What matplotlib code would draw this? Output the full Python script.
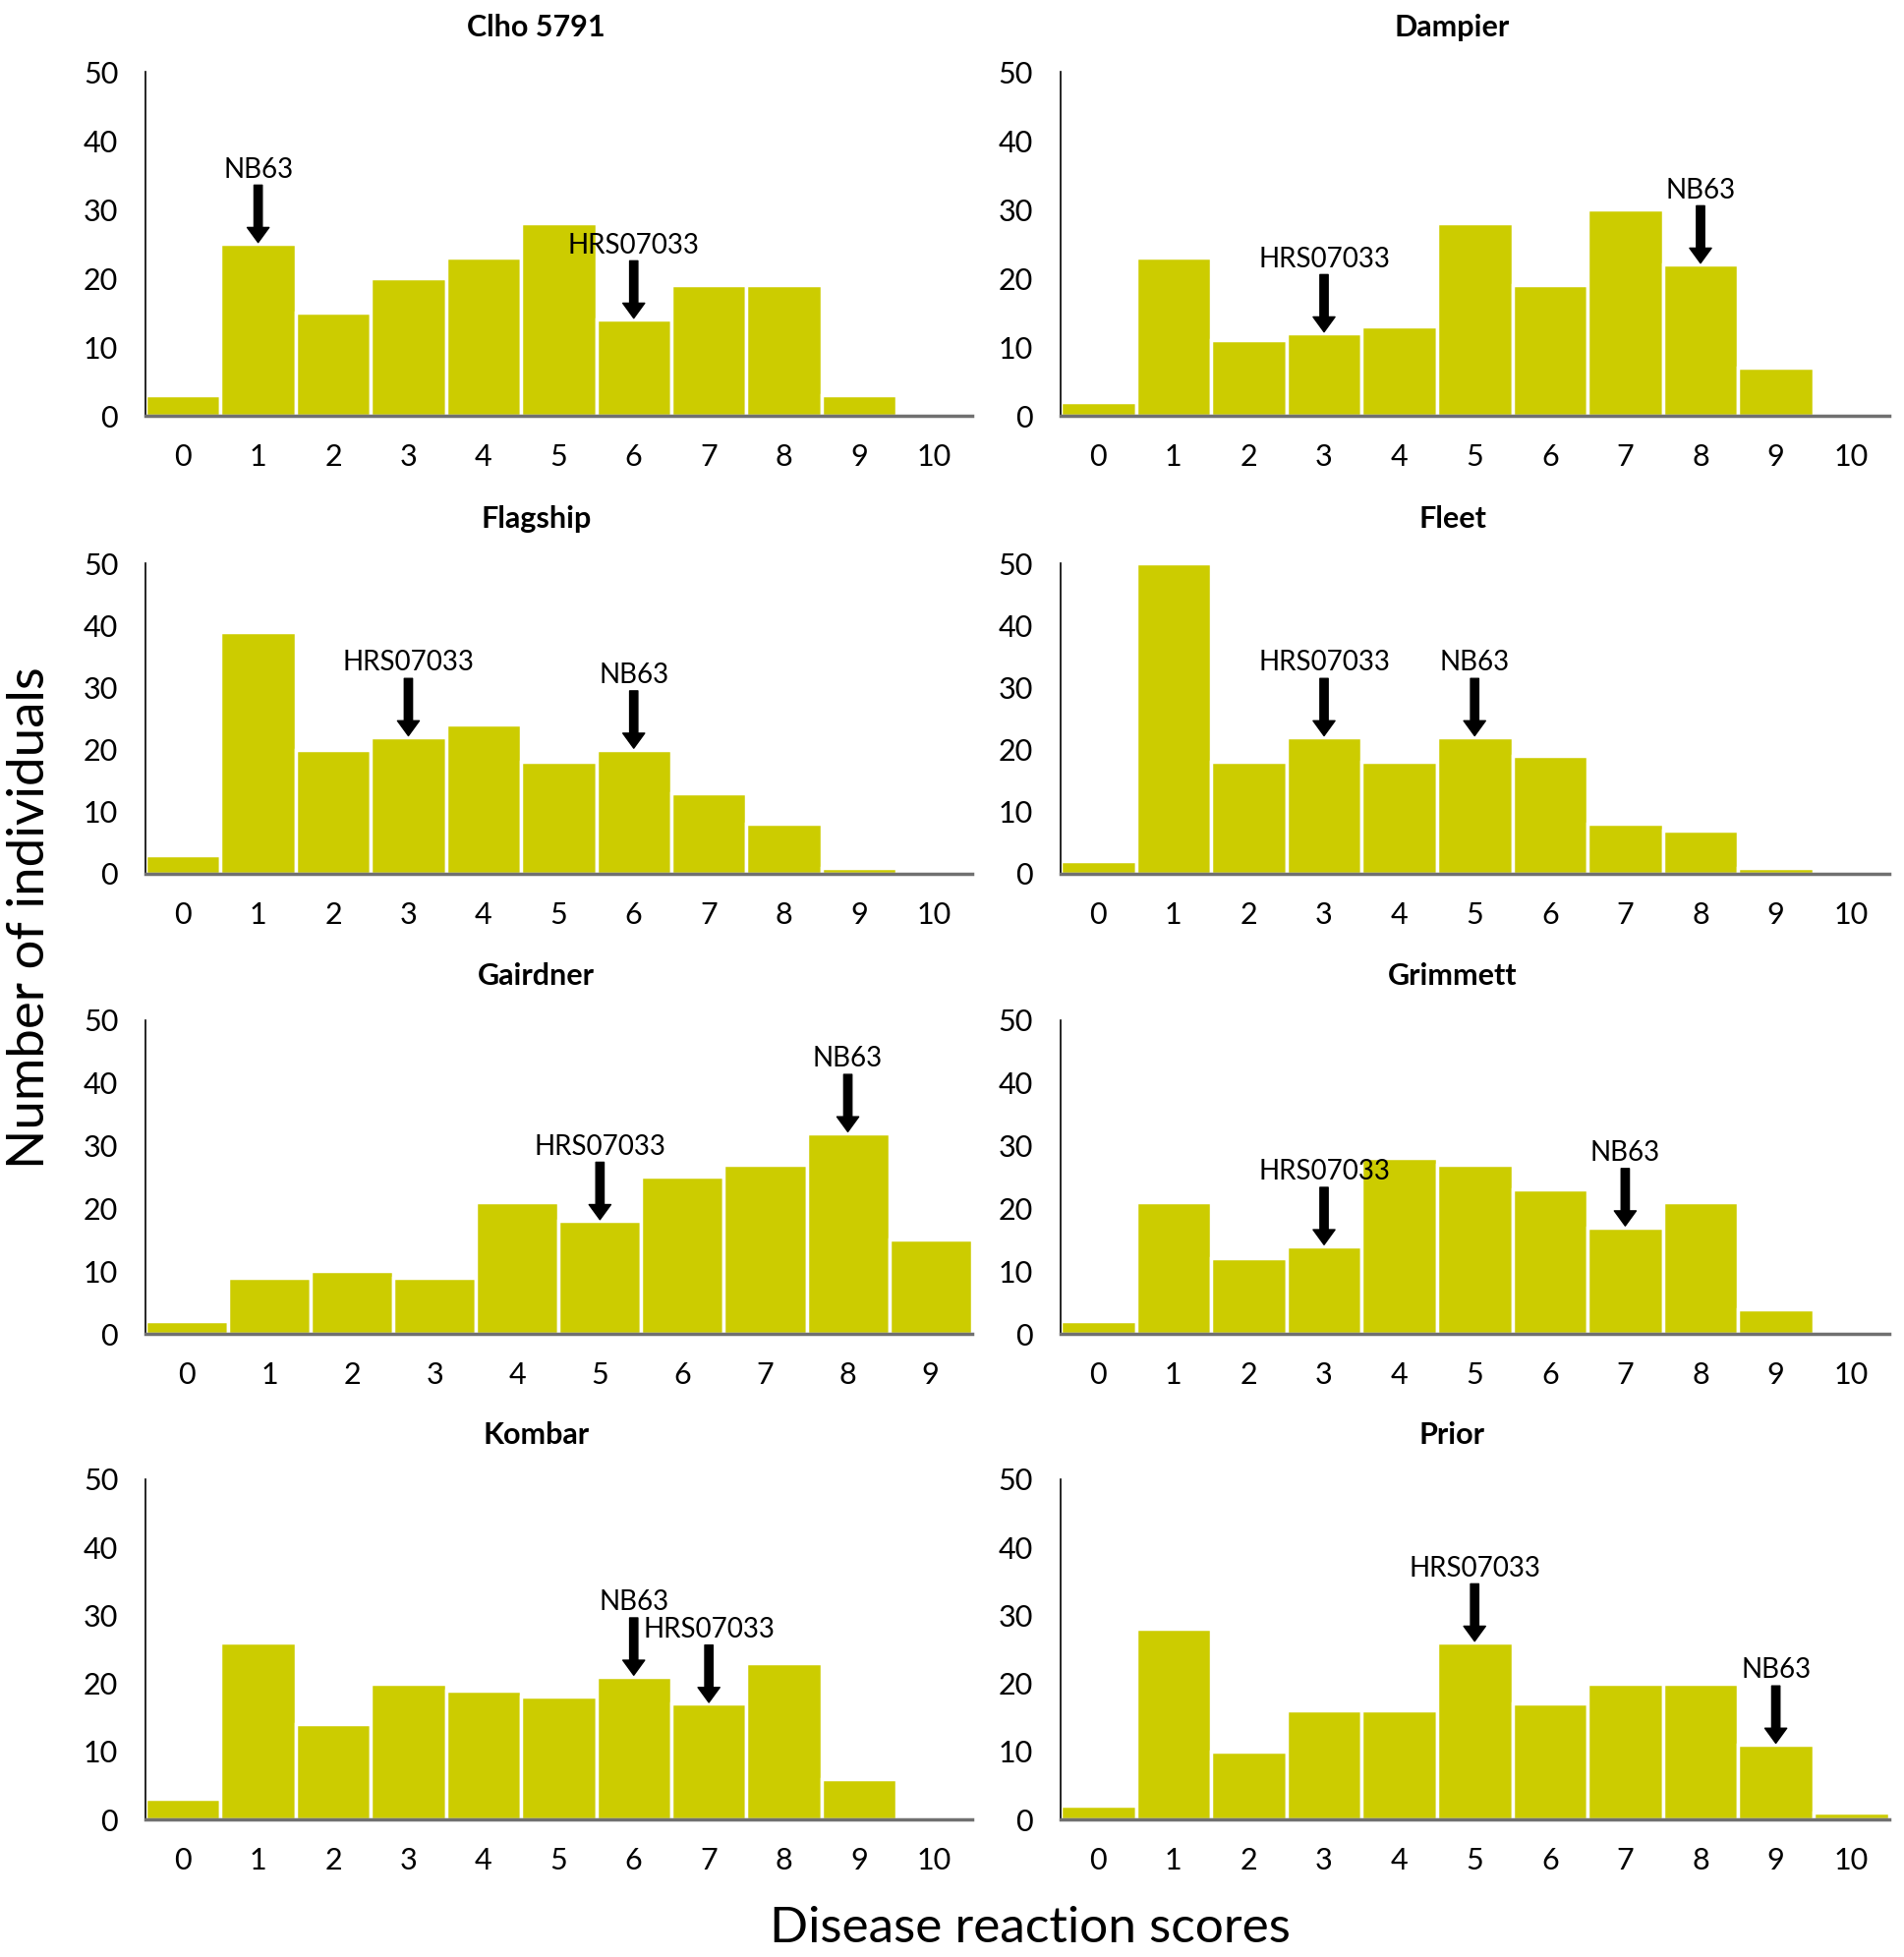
import matplotlib
matplotlib.use("Agg")
import matplotlib.pyplot as plt
from matplotlib.transforms import offset_copy

# disease reaction score distributions per cultivar
names = ["Clho 5791", "Dampier", "Flagship", "Fleet", "Gairdner", "Grimmett", "Kombar", "Prior"]
clho = [3, 25, 15, 20, 23, 28, 14, 19, 19, 3, 0]
dampier = [2, 23, 11, 12, 13, 28, 19, 30, 22, 7, 0]
flagship = [3, 39, 20, 22, 24, 18, 20, 13, 8, 1, 0]
fleet = [2, 50, 18, 22, 18, 22, 19, 8, 7, 1, 0]
gairdner = [2, 9, 10, 9, 21, 18, 25, 27, 32, 15]
grimmett = [2, 21, 12, 14, 28, 27, 23, 17, 21, 4, 0]
kombar = [3, 26, 14, 20, 19, 18, 21, 17, 23, 6, 0]
prior = [2, 28, 10, 16, 16, 26, 17, 20, 20, 11, 1]
counts = [clho, dampier, flagship, fleet, gairdner, grimmett, kombar, prior]

# score of each parent line in each panel
hrs_score = [6, 3, 3, 3, 5, 3, 7, 5]
nb63_score = [1, 8, 6, 5, 8, 7, 6, 9]

BAR = "#CCCC00"
FONT = ["Lato", "DejaVu Sans"]
plt.rcParams["font.family"] = FONT

fig = plt.figure(figsize=(19.37, 19.91), dpi=100)

cols = [(0.0764, 0.434), (0.557, 0.435)]
rows = [(0.7875, 0.1758), (0.5535, 0.1587), (0.3184, 0.1603), (0.0703, 0.1738)]

for i, (name, vals) in enumerate(zip(names, counts)):
    left, w = cols[i % 2]
    bottom, h = rows[i // 2]
    ax = fig.add_axes([left, bottom, w, h])
    xs = list(range(len(vals)))
    ax.bar(xs, vals, width=1.0, color=BAR, edgecolor="white", linewidth=2.5, zorder=2)
    ax.set_xlim(-0.5, len(vals) - 0.5)
    ax.set_ylim(0, 50)
    ax.set_xticks(xs)
    ax.set_yticks([0, 10, 20, 30, 40, 50])
    ax.tick_params(length=0, labelsize=22, pad=20)
    ax.spines["top"].set_visible(False)
    ax.spines["right"].set_visible(False)
    ax.spines["left"].set_linewidth(1.2)
    ax.spines["left"].set_color("black")
    ax.spines["bottom"].set_linewidth(2.5)
    ax.spines["bottom"].set_color("#707070")
    ax.spines["bottom"].set_zorder(3)
    ax.set_title(name, x=0.473, pad=26, fontsize=22, fontweight="bold")

    tip = offset_copy(ax.transData, fig=fig, y=1, units="points")
    for sc, lab in [(hrs_score[i], "HRS07033"), (nb63_score[i], "NB63")]:
        top = vals[sc]
        ax.annotate("", xy=(sc, top), xycoords=tip,
                    xytext=(0, 42), textcoords="offset points",
                    arrowprops=dict(facecolor="black", edgecolor="black", width=6,
                                    headwidth=16, headlength=11, shrink=0),
                    annotation_clip=False, zorder=4)
        ax.annotate(lab, xy=(sc, top), xytext=(0, 45), textcoords="offset points",
                    ha="center", va="bottom", fontsize=20,
                    annotation_clip=False, zorder=4)

fig.text(0.016, 0.531, "Number of individuals", rotation=90, ha="center", va="center",
         fontsize=38)
fig.text(0.541, 0.0146, "Disease reaction scores", ha="center", va="center",
         fontsize=37)

fig.savefig("out.png", dpi=100, facecolor="white")
